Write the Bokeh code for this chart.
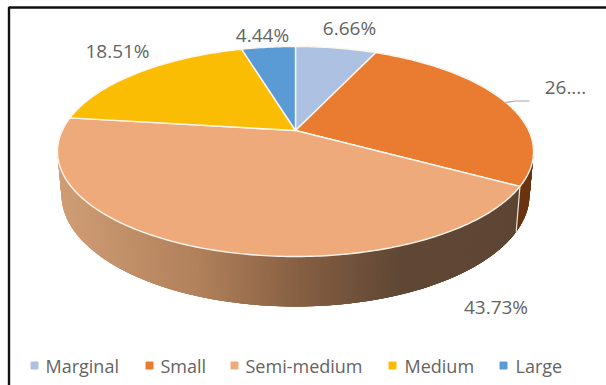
import math

from bokeh.core.properties import value
from bokeh.embed import file_html
from bokeh.models import ColumnDataSource
from bokeh.plotting import figure
from bokeh.resources import INLINE

# Farm size shares, in percent
categories = ["Marginal", "Small", "Semi-medium", "Medium", "Large"]
shares = [6.66, 26.66, 43.73, 18.51, 4.44]
share_labels = ["6.66%", "26....", "43.73%", "18.51%", "4.44%"]
top_colors = ["#adc1e3", "#e97c30", "#efaa7c", "#fbbc04", "#5b9bd5"]
legend_colors = ["#adc1e3", "#e97c30", "#efaa7c", "#fbbc04", "#5b9bd5"]

FONT = value("Open Sans")
TEXT_COLOR = "#646464"

# Perspective model of the disc: the far edge shrinks, the near edge grows
CX = 295.0
TOP = dict(cy=130.0, a=233.2, b=100.8, k=0.2)
BOTTOM = dict(cy=171.6, a=229.3, b=107.5, k=0.2)


def rim(theta, disc):
    u, v = math.sin(theta), math.cos(theta)
    w = 1 + disc["k"] * v
    return CX + disc["a"] * u / w, disc["cy"] - disc["b"] * v / w


def blend(x, stops):
    for (x0, c0), (x1, c1) in zip(stops, stops[1:]):
        if x <= x1:
            t = max(0.0, (x - x0) / (x1 - x0))
            return "#%02x%02x%02x" % tuple(round(p + (q - p) * t) for p, q in zip(c0, c1))
    return "#%02x%02x%02x" % stops[-1][1]


# Shading across the semi-medium wall, left to right
semi_wall = [
    (60, (0xcf, 0x9d, 0x76)),
    (200, (0xb0, 0x80, 0x5a)),
    (300, (0x85, 0x5f, 0x42)),
    (400, (0x60, 0x47, 0x35)),
    (530, (0x5e, 0x46, 0x35)),
]

edges = [0.0]
for s in shares:
    edges.append(edges[-1] + s / sum(shares) * 2 * math.pi)

p = figure(width=606, height=385, x_range=(0, 606), y_range=(385, 0),
           output_backend="svg", toolbar_location=None, min_border=0,
           background_fill_color="white", border_fill_color="white")
p.axis.visible = False
p.grid.visible = False
p.outline_line_color = None

# Side wall of the disc, drawn as overlapping strips so no seams show
wall_xs, wall_ys, wall_cols = [], [], []
for i in (1, 2):
    start, end = edges[i], edges[i + 1]
    steps = 400
    for j in range(steps):
        t0 = start + (end - start) * j / steps
        t1 = start + (end - start) * min(j + 4, steps) / steps
        tm = start + (end - start) * (j + 0.5) / steps
        a, b = rim(t0, TOP), rim(t1, TOP)
        c, d = rim(t1, BOTTOM), rim(t0, BOTTOM)
        wall_xs.append([a[0], b[0], c[0], d[0]])
        wall_ys.append([a[1], b[1], c[1], d[1]])
        wall_cols.append("#6a3512" if i == 1 else blend(rim(tm, TOP)[0], semi_wall))
p.patches("xs", "ys", source=ColumnDataSource(dict(xs=wall_xs, ys=wall_ys, c=wall_cols)),
          fill_color="c", line_color=None)

# Light seam where the small and semi-medium walls meet
seam_top, seam_bottom = rim(edges[2], TOP), rim(edges[2], BOTTOM)
p.line([seam_top[0], seam_bottom[0]], [seam_top[1], seam_bottom[1]], line_color="#efe4da", line_width=1.2)

# Top face of the disc
top_xs, top_ys = [], []
for i in range(len(shares)):
    steps = max(8, int(shares[i] * 4))
    pts = [rim(edges[i] + (edges[i + 1] - edges[i]) * j / steps, TOP) for j in range(steps + 1)]
    top_xs.append([CX] + [q[0] for q in pts])
    top_ys.append([TOP["cy"]] + [q[1] for q in pts])
p.patches("xs", "ys", source=ColumnDataSource(dict(xs=top_xs, ys=top_ys, c=top_colors)),
          fill_color="c", line_color="#fdf6ee", line_width=1.4, line_join="round")

# Leader line for the small-farm label
p.line([505, 515, 529], [102, 100.5, 100.5], line_color="#a6a6a6", line_width=1.2)

# Value labels
label_x = [349, 565, 495.5, 117, 262]
label_y = [27, 87, 306, 50, 34]
p.text(label_x, label_y, text=share_labels, text_font=FONT, text_font_size="19px",
       text_color=TEXT_COLOR, text_align="center", text_baseline="middle")

# Legend row
legend_marker_x = [34, 149, 234, 392, 503]
legend_text_x = [45, 160, 245, 404, 515]
legend_y = [365] * 5
p.scatter(legend_marker_x, legend_y, marker="square", size=7, color=legend_colors)
p.text(legend_text_x, legend_y, text=categories, text_font=FONT, text_font_size="18px",
       text_color=TEXT_COLOR, text_align="left", text_baseline="middle")

# Frame round the chart
p.line([8.5, 8.5, 606], [385, 7, 7], line_color="#111111", line_width=2.4)

open("out.html", "w").write(file_html(p, INLINE))
